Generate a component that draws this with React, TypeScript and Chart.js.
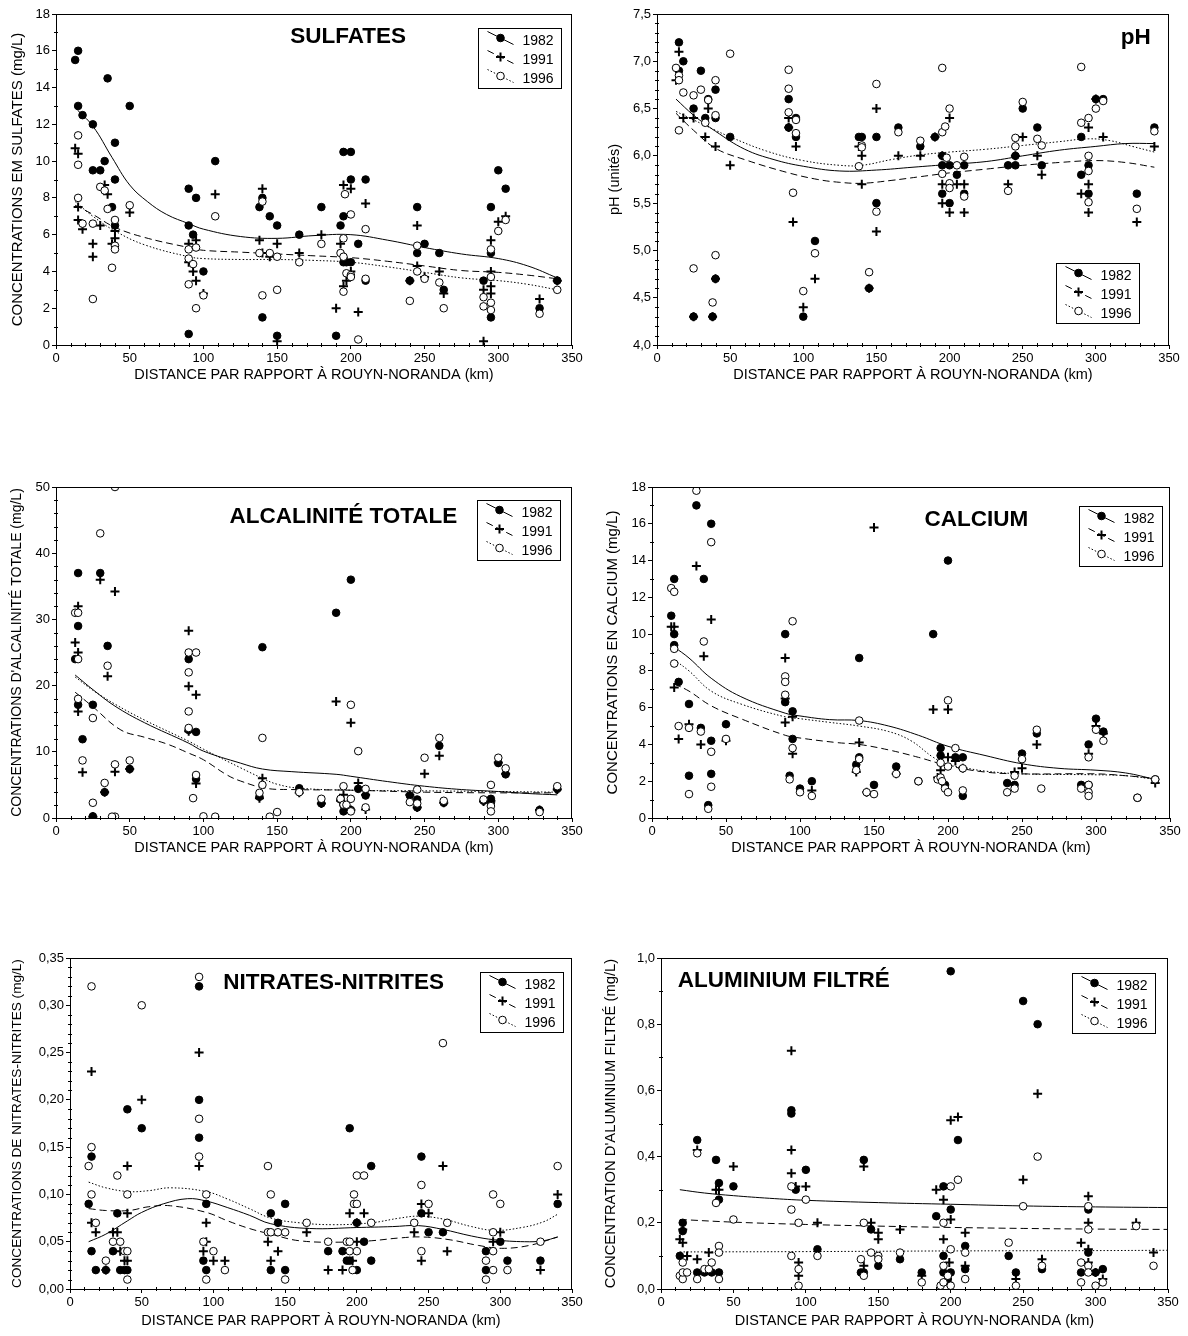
import React, { useEffect, useRef } from 'react';
import { Chart, registerables } from 'chart.js';
Chart.register(...registerables);

const FONT = '"Liberation Sans", Arial, Helvetica, sans-serif';
type Pt = [number, number];

// ---------- shared axis ----------
const X_MIN = 0;
const X_MAX = 350;
const X_STEP = 50;
const X_MINOR = 10;
const X_TITLE = 'DISTANCE PAR RAPPORT À ROUYN-NORANDA (km)';
const YEARS = ['1982', '1991', '1996'];

// ---------- SULFATES ----------
const SULF_82: Pt[] = [[13,15.5],[15,16],[15,13],[18,12.5],[25,12],[25,9.5],[30,9.5],[33,10],[35,14.5],[38,7.5],[40,11],[40,9],[40,6.5],[50,13],[90,8.5],[90,6.5],[90,0.6],[93,6],[95,8],[100,4],[108,10],[138,7.5],[140,8],[140,1.5],[145,7],[150,6.5],[150,0.5],[165,6],[180,7.5],[190,0.5],[193,6.5],[195,7],[195,10.5],[200,10.5],[200,9],[195,4.5],[197,4.5],[200,4.5],[205,5.5],[210,9],[210,3.5],[240,3.5],[245,7.5],[245,5],[250,5.5],[260,5],[263,3],[290,3.5],[295,7.5],[295,5],[295,1.5],[300,9.5],[305,8.5],[328,2],[340,3.5]];
const SULF_91: Pt[] = [[13,10.7],[15,10.4],[15,7.5],[15,6.8],[18,6.3],[25,5.5],[25,4.8],[30,6.5],[33,8.7],[35,8.2],[38,5.5],[40,6.2],[40,5.8],[50,7.2],[90,5.5],[90,4.5],[93,4],[95,5.7],[95,3.5],[100,2.8],[108,8.2],[138,5.7],[140,8.5],[140,5],[145,4.8],[150,5.5],[150,0.2],[165,5],[180,6],[190,2],[193,5.5],[195,8.7],[195,3.2],[197,3.5],[200,8.5],[200,4],[205,1.8],[210,7.7],[240,3.5],[245,6.5],[245,4.3],[250,3.7],[260,4],[263,2.8],[290,0.2],[290,3],[295,5.7],[295,4],[295,3.2],[295,2.8],[300,6.7],[305,7],[328,2.5],[340,3.5]];
const SULF_96: Pt[] = [[15,11.4],[15,9.8],[15,8],[18,6.6],[25,6.6],[25,2.5],[30,8.6],[33,8.4],[35,7.4],[38,4.2],[40,6.8],[40,5.4],[40,5.2],[50,7.6],[90,5.2],[90,4.7],[90,3.3],[93,4.4],[95,5.3],[95,2],[100,2.7],[108,7],[138,5],[140,7.8],[140,2.7],[145,5],[150,4.8],[150,3],[165,4.5],[180,5.5],[193,5],[195,5.8],[195,4.8],[195,2.9],[196,8.2],[197,3.9],[200,7.1],[200,3.8],[200,3.7],[205,0.3],[210,6.3],[210,3.6],[240,2.4],[245,5.4],[245,4],[250,3.6],[260,3.4],[263,2],[290,2.6],[290,2.1],[295,5.2],[295,3.7],[295,2.3],[295,1.9],[300,6.2],[305,6.8],[328,1.7],[340,3]];
const SULF_C82: Pt[] = [[13,12.9],[25,11.9],[38,10.2],[50,8.7],[62,7.8],[75,7.1],[90,6.6],[100,6.3],[125,5.9],[150,5.8],[175,5.95],[200,6.0],[225,5.7],[250,5.3],[275,4.95],[300,4.7],[320,4.3],[340,3.65]];
const SULF_C91: Pt[] = [[13,7.6],[25,7.1],[40,6.4],[60,5.85],[90,5.3],[100,5.15],[125,5.05],[150,4.95],[175,4.85],[200,4.75],[225,4.55],[250,4.3],[275,4.05],[300,3.95],[320,3.8],[340,3.6]];
const SULF_C96: Pt[] = [[13,7.8],[25,7.0],[40,6.2],[60,5.45],[90,4.8],[100,4.7],[125,4.65],[150,4.65],[175,4.6],[200,4.5],[225,4.25],[250,3.95],[275,3.65],[300,3.5],[320,3.3],[340,3.0]];

// ---------- pH ----------
const PH_82: Pt[] = [[15,7.2],[15,6.9],[18,7.0],[25,6.5],[30,6.9],[33,6.4],[35,6.6],[40,6.7],[40,6.4],[40,4.7],[25,4.3],[38,4.3],[50,6.2],[90,6.6],[90,6.3],[95,6.4],[95,6.2],[108,5.1],[100,4.3],[138,6.2],[140,6.2],[150,6.2],[150,5.5],[145,4.6],[165,6.3],[180,6.1],[190,6.2],[195,6.0],[195,5.9],[195,5.6],[200,5.9],[200,5.5],[205,5.8],[210,5.9],[210,5.6],[240,5.9],[245,5.9],[245,6.0],[250,6.5],[260,6.3],[263,5.9],[290,6.2],[290,5.8],[295,5.9],[295,5.6],[300,6.6],[305,6.6],[328,5.6],[340,6.3]];
const PH_91: Pt[] = [[13,6.8],[15,7.1],[18,6.4],[25,6.4],[25,4.3],[33,6.2],[35,6.5],[38,4.3],[40,6.1],[40,4.7],[50,5.9],[90,6.4],[90,6.3],[93,5.3],[95,6.1],[100,4.4],[108,4.7],[138,6.1],[140,6.0],[140,5.7],[145,4.6],[150,6.5],[150,5.2],[165,6.0],[180,6.0],[190,6.2],[195,6.0],[195,5.7],[195,5.5],[200,6.4],[200,5.7],[200,5.4],[205,5.7],[210,5.7],[210,5.4],[240,5.7],[245,6.0],[250,6.2],[260,6.0],[263,5.8],[290,5.6],[295,6.3],[295,5.7],[295,5.4],[300,6.6],[305,6.2],[328,5.3],[340,6.1]];
const PH_96: Pt[] = [[13,6.93],[15,6.85],[15,6.8],[15,6.27],[18,6.67],[25,6.64],[25,4.81],[30,6.7],[33,6.35],[35,6.59],[38,4.45],[40,6.8],[40,6.43],[40,4.95],[50,7.08],[90,6.91],[90,6.71],[90,6.46],[93,5.61],[95,6.38],[95,6.24],[100,4.57],[108,4.97],[138,5.89],[140,6.11],[140,6.09],[145,4.77],[150,6.76],[150,5.41],[165,6.25],[180,6.16],[195,6.93],[195,6.25],[195,5.81],[197,6.31],[198,5.98],[200,6.5],[200,5.71],[200,5.66],[205,5.9],[210,5.99],[210,5.57],[240,5.63],[245,6.19],[245,6.1],[250,6.57],[260,6.18],[263,6.11],[290,6.94],[290,6.35],[295,6.4],[295,6.0],[295,5.84],[295,5.51],[300,6.5],[305,6.58],[328,5.44],[340,6.26]];
const PH_C82: Pt[] = [[13,6.6],[25,6.43],[40,6.26],[60,6.07],[80,5.96],[100,5.89],[125,5.84],[150,5.85],[175,5.88],[200,5.91],[225,5.94],[250,6.0],[275,6.06],[300,6.1],[320,6.13],[340,6.13]];
const PH_C91: Pt[] = [[13,6.45],[25,6.27],[40,6.08],[60,5.96],[90,5.82],[110,5.75],[125,5.72],[140,5.71],[160,5.74],[180,5.78],[200,5.82],[225,5.86],[250,5.9],[275,5.93],[300,5.95],[320,5.93],[340,5.88]];
const PH_C96: Pt[] = [[13,6.47],[25,6.38],[40,6.27],[50,6.2],[75,6.05],[100,5.95],[125,5.9],[140,5.9],[160,5.96],[180,6.01],[200,6.04],[225,6.07],[250,6.11],[275,6.15],[295,6.18],[310,6.16],[325,6.1],[340,6.04]];

// ---------- ALCALINITE ----------
const ALC_82: Pt[] = [[13,24],[15,37],[15,29],[15,17.1],[18,11.9],[25,17.1],[25,0.25],[30,37],[33,3.9],[35,26],[50,7.4],[90,24],[90,13.3],[95,13],[95,5.9],[138,3.2],[140,25.8],[165,4.5],[180,2.2],[190,31],[193,2.8],[195,1.0],[195,2.0],[200,36],[200,1.2],[205,4.4],[210,3.4],[240,3.4],[245,2.8],[245,1.6],[260,10.9],[263,2.3],[290,2.6],[295,2.9],[295,2.3],[300,8.3],[305,6.6],[328,1.2],[340,4.4]];
const ALC_91: Pt[] = [[13,26.5],[15,32],[15,25],[15,16.1],[18,6.9],[25,0.2],[30,36],[33,3.9],[35,21.4],[40,34.2],[40,7],[50,7.4],[90,28.3],[90,19.9],[90,13.1],[95,18.6],[95,5.2],[138,3.0],[140,6.0],[165,3.8],[180,2.2],[190,17.6],[193,2.6],[195,3.5],[200,14.4],[200,1.2],[205,5.3],[210,1.3],[210,3.5],[240,3.5],[245,1.6],[250,6.7],[260,9.4],[263,2.3],[290,2.5],[295,2.6],[300,8.4],[305,6.7],[328,1.2],[340,4.3]];
const ALC_96: Pt[] = [[13,31],[15,31],[15,24],[15,18],[18,8.7],[25,15.1],[25,2.3],[30,43],[33,5.3],[35,23],[40,50],[40,8.1],[40,0.2],[38,0.2],[50,8.7],[90,25],[90,22],[90,16.1],[90,13.6],[93,3],[95,25],[95,6.5],[100,0.25],[108,0.2],[138,3.8],[140,12.1],[140,5],[145,0.2],[150,0.9],[165,3.9],[180,2.9],[193,2.9],[195,4.8],[195,2.0],[197,2.0],[200,17.1],[200,2.9],[200,1.0],[205,10.1],[210,4.4],[210,1.6],[240,2.4],[245,4.3],[245,2.2],[250,9.1],[260,12.1],[263,2.6],[290,2.8],[295,5],[295,1.8],[295,1.0],[300,9.1],[305,7.5],[328,0.9],[340,4.8]];
const ALC_C82: Pt[] = [[13,21.6],[25,19.4],[40,16.9],[60,14.4],[90,11.3],[100,10.1],[125,8.3],[140,7.4],[160,7.0],[190,6.6],[200,6.3],[225,5.5],[250,4.8],[275,4.3],[300,4.0],[320,3.7],[340,3.5]];
const ALC_C91: Pt[] = [[13,19.0],[25,16.8],[44,13.3],[60,12.2],[75,11.2],[90,9.8],[100,8.8],[116,6.5],[125,5.6],[142,4.5],[160,4.3],[200,4.2],[250,3.9],[300,3.8],[340,3.8]];
const ALC_C96: Pt[] = [[13,21.3],[25,19.3],[40,17.2],[60,14.8],[90,11.6],[100,10.4],[125,7.6],[140,6.0],[150,5.1],[165,4.5],[200,4.2],[250,4.1],[300,4.0],[340,3.9]];

// ---------- CALCIUM ----------
const CA_82: Pt[] = [[13,11],[15,13],[15,10],[15,9.4],[18,7.4],[25,6.2],[25,2.3],[30,17],[33,4.9],[35,13],[40,16],[40,4.2],[40,2.4],[38,0.7],[50,5.1],[90,10],[90,6.3],[95,5.8],[95,4.3],[93,2.3],[100,1.6],[108,2.0],[138,2.9],[140,8.7],[140,3.3],[150,1.8],[165,2.8],[180,2.0],[190,10],[195,3.8],[195,3.4],[198,1.8],[200,14],[205,3.3],[210,3.3],[210,1.2],[240,1.9],[245,1.8],[250,3.5],[260,4.6],[290,1.8],[295,4.0],[295,1.8],[300,5.4],[305,4.7],[328,1.1],[340,2.1]];
const CA_91: Pt[] = [[13,10.4],[15,10.4],[15,7.1],[18,4.3],[25,5.1],[30,13.7],[33,4.0],[35,8.8],[40,10.8],[50,4.2],[90,8.7],[90,6.5],[90,5.2],[95,5.5],[95,3.5],[108,1.5],[138,2.5],[140,4.1],[145,1.4],[150,15.8],[165,2.4],[190,5.9],[193,2.2],[195,2.6],[200,5.9],[200,3.3],[205,3.1],[210,2.7],[245,2.5],[250,2.7],[260,4.0],[295,3.5],[300,5.0],[305,4.6],[340,1.9]];
const CA_96: Pt[] = [[13,12.5],[15,12.3],[15,9.2],[15,8.4],[18,5.0],[25,4.9],[25,1.3],[30,17.8],[33,4.7],[35,9.6],[40,15],[40,3.6],[40,1.7],[38,0.5],[50,4.3],[90,7.7],[90,7.4],[90,6.7],[95,10.7],[95,3.8],[93,2.1],[100,1.4],[108,1.2],[138,2.6],[140,5.3],[140,3.2],[145,1.4],[150,1.3],[165,2.4],[180,2.0],[193,2.1],[195,2.2],[195,3.0],[196,2.0],[198,1.6],[200,6.4],[200,2.8],[200,1.4],[205,3.8],[210,2.7],[210,1.5],[240,1.4],[245,2.3],[245,1.6],[250,3.2],[260,4.8],[263,1.6],[290,1.6],[295,3.3],[295,1.8],[295,1.4],[295,1.2],[300,4.8],[305,4.2],[328,1.1],[340,2.1]];
const CA_C82: Pt[] = [[15,9.3],[25,8.7],[40,7.6],[60,6.6],[90,5.7],[100,5.55],[120,5.35],[140,5.3],[160,5.0],[180,4.5],[200,3.9],[225,3.4],[250,2.95],[275,2.7],[300,2.6],[320,2.45],[340,2.1]];
const CA_C91: Pt[] = [[15,7.3],[25,6.9],[40,6.1],[60,5.4],[90,4.5],[100,4.35],[125,4.1],[140,4.0],[160,3.7],[180,3.3],[200,2.85],[225,2.5],[250,2.4],[300,2.4],[320,2.3],[340,2.15]];
const CA_C96: Pt[] = [[15,8.6],[25,8.0],[40,6.9],[60,6.2],[90,5.5],[100,5.4],[120,5.2],[140,5.0],[160,4.7],[175,4.2],[190,3.3],[200,2.9],[210,2.75],[225,2.55],[250,2.4],[300,2.35],[320,2.3],[340,2.1]];

// ---------- NITRATES-NITRITES ----------
const NO_82: Pt[] = [[13,0.09],[15,0.14],[15,0.04],[18,0.02],[25,0.02],[30,0.04],[33,0.08],[35,0.02],[38,0.02],[40,0.02],[40,0.19],[50,0.17],[90,0.32],[90,0.2],[90,0.16],[93,0.03],[95,0.09],[95,0.02],[140,0.08],[140,0.02],[145,0.07],[150,0.09],[150,0.02],[180,0.04],[190,0.04],[193,0.03],[195,0.17],[195,0.03],[200,0.02],[200,0.07],[205,0.05],[210,0.13],[210,0.03],[245,0.14],[245,0.08],[250,0.06],[260,0.06],[290,0.04],[290,0.02],[300,0.05],[305,0.03],[328,0.03],[340,0.09]];
const NO_91: Pt[] = [[15,0.23],[15,0.07],[18,0.06],[25,0.02],[30,0.06],[33,0.06],[35,0.04],[38,0.03],[40,0.13],[40,0.08],[40,0.03],[50,0.2],[90,0.25],[90,0.13],[93,0.04],[95,0.07],[95,0.05],[100,0.03],[108,0.03],[138,0.05],[140,0.03],[145,0.04],[165,0.06],[180,0.02],[190,0.02],[195,0.08],[197,0.03],[200,0.05],[200,0.07],[205,0.08],[240,0.06],[245,0.09],[245,0.03],[250,0.08],[260,0.13],[263,0.04],[295,0.05],[300,0.06],[328,0.02],[340,0.1]];
const NO_96: Pt[] = [[13,0.13],[15,0.32],[15,0.15],[15,0.1],[18,0.07],[25,0.03],[30,0.05],[33,0.12],[35,0.05],[38,0.04],[40,0.1],[40,0.04],[40,0.01],[50,0.3],[90,0.33],[90,0.18],[90,0.14],[93,0.05],[95,0.1],[95,0.01],[100,0.04],[108,0.02],[138,0.13],[138,0.06],[140,0.1],[140,0.06],[145,0.06],[150,0.06],[150,0.01],[165,0.07],[180,0.05],[193,0.05],[195,0.04],[195,0.05],[197,0.02],[198,0.1],[198,0.09],[200,0.12],[200,0.09],[200,0.04],[205,0.12],[210,0.07],[240,0.07],[245,0.11],[245,0.04],[250,0.09],[260,0.26],[263,0.07],[290,0.03],[290,0.01],[295,0.1],[295,0.06],[295,0.04],[295,0.02],[300,0.09],[305,0.02],[328,0.05],[340,0.13]];
const NO_C82: Pt[] = [[13,0.05],[25,0.058],[40,0.072],[50,0.081],[65,0.09],[82,0.0955],[95,0.093],[110,0.086],[125,0.078],[140,0.069],[167,0.064],[200,0.065],[225,0.066],[243,0.067],[260,0.063],[280,0.056],[296,0.052],[317,0.05],[330,0.051],[340,0.055]];
const NO_C91: Pt[] = [[13,0.085],[25,0.083],[41,0.083],[55,0.087],[70,0.088],[95,0.081],[110,0.072],[125,0.064],[140,0.058],[160,0.051],[190,0.0495],[210,0.051],[230,0.054],[246,0.055],[265,0.052],[285,0.046],[301,0.043],[320,0.046],[340,0.055]];
const NO_C96: Pt[] = [[13,0.113],[25,0.107],[41,0.103],[55,0.104],[70,0.107],[95,0.103],[110,0.095],[125,0.085],[140,0.075],[160,0.07],[184,0.068],[210,0.07],[230,0.075],[243,0.077],[260,0.074],[280,0.066],[296,0.062],[315,0.065],[330,0.071],[340,0.079]];

// ---------- ALUMINIUM FILTRE ----------
const AL_82: Pt[] = [[13,0.1],[15,0.2],[15,0.175],[25,0.45],[25,0.05],[30,0.05],[35,0.05],[38,0.39],[40,0.32],[40,0.27],[40,0.05],[50,0.31],[90,0.54],[90,0.53],[93,0.3],[100,0.36],[108,0.12],[138,0.05],[140,0.39],[140,0.05],[145,0.18],[150,0.07],[165,0.09],[180,0.05],[190,0.22],[195,0.05],[195,0.31],[195,0.1],[198,0.03],[200,0.96],[200,0.24],[200,0.05],[205,0.45],[210,0.13],[210,0.06],[240,0.1],[245,0.05],[250,0.87],[260,0.8],[263,0.06],[290,0.05],[295,0.24],[295,0.11],[300,0.05],[305,0.06]];
const AL_91: Pt[] = [[13,0.15],[15,0.14],[15,0.18],[18,0.1],[25,0.42],[25,0.09],[33,0.11],[38,0.3],[40,0.3],[50,0.37],[90,0.72],[90,0.42],[90,0.35],[93,0.31],[95,0.08],[95,0.04],[100,0.31],[108,0.2],[140,0.37],[140,0.07],[145,0.2],[150,0.17],[150,0.15],[165,0.18],[180,0.04],[190,0.3],[195,0.27],[195,0.15],[198,0.02],[199,0.08],[200,0.51],[200,0.21],[205,0.52],[210,0.17],[210,0.07],[245,0.03],[250,0.33],[260,0.59],[263,0.09],[290,0.14],[295,0.28],[295,0.2],[295,0.12],[295,0.08],[300,0.05],[305,0.03],[328,0.2],[340,0.11]];
const AL_96: Pt[] = [[13,0.04],[15,0.08],[15,0.03],[15,0.05],[18,0.05],[25,0.41],[25,0.03],[30,0.06],[33,0.06],[35,0.08],[38,0.26],[40,0.13],[40,0.11],[40,0.03],[50,0.21],[90,0.31],[90,0.24],[90,0.1],[95,0.2],[95,0.06],[95,0.01],[100,0.27],[108,0.1],[138,0.09],[140,0.2],[140,0.04],[145,0.11],[150,0.1],[150,0.09],[165,0.11],[180,0.02],[193,0.01],[195,0.2],[195,0.07],[195,0.02],[198,0.04],[200,0.31],[200,0.12],[200,0.01],[205,0.33],[210,0.11],[210,0.03],[240,0.14],[245,0.01],[250,0.25],[260,0.4],[263,0.07],[290,0.08],[290,0.02],[295,0.25],[295,0.18],[295,0.07],[295,0.05],[300,0.01],[305,0.02],[328,0.19],[340,0.07]];
const AL_C82: Pt[] = [[13,0.30],[30,0.29],[50,0.282],[75,0.274],[100,0.268],[150,0.261],[200,0.256],[250,0.251],[300,0.248],[350,0.246]];
const AL_C91: Pt[] = [[13,0.21],[50,0.202],[100,0.195],[150,0.19],[200,0.186],[250,0.183],[300,0.181],[350,0.18]];
const AL_C96: Pt[] = [[13,0.112],[100,0.113],[200,0.115],[300,0.116],[350,0.117]];

// ---------- panel layout ----------
interface PanelDef {
  title: string; yTitle: string;
  yMin: number; yMax: number; yStep: number; yMinor: number; yDec: number;
  pts: Pt[][]; curves: Pt[][];
  canvas: [number, number, number, number];
  plot: [number, number, number, number];
  yTitleSize: number; yTitleX: number; xTitleY: number;
  titleFx: number; titleFy: number; legFx: number; legFy: number;
}

const X_TITLE_SIZE = 14.5;

const PANELS: PanelDef[] = [
  { title: 'SULFATES', yTitle: 'CONCENTRATIONS EM SULFATES (mg/L)', yMin: 0, yMax: 18, yStep: 2, yMinor: 1, yDec: 0,
    pts: [SULF_82, SULF_91, SULF_96], curves: [SULF_C82, SULF_C91, SULF_C96],
    canvas: [0, 0, 594, 400], plot: [56, 14, 572, 345], yTitleSize: 15, yTitleX: 18, xTitleY: 375,
    titleFx: 0.566, titleFy: 0.07, legFx: 0.817, legFy: 0.043 },
  { title: 'pH', yTitle: 'pH (unités)', yMin: 4, yMax: 7.5, yStep: 0.5, yMinor: 0.1, yDec: 1,
    pts: [PH_82, PH_91, PH_96], curves: [PH_C82, PH_C91, PH_C96],
    canvas: [594, 0, 594, 400], plot: [657, 14, 1169, 345], yTitleSize: 14.5, yTitleX: 615, xTitleY: 375,
    titleFx: 0.935, titleFy: 0.073, legFx: 0.779, legFy: 0.7525 },
  { title: 'ALCALINITÉ TOTALE', yTitle: "CONCENTRATIONS D'ALCALINITÉ TOTALE (mg/L)", yMin: 0, yMax: 50, yStep: 10, yMinor: 2, yDec: 0,
    pts: [ALC_82, ALC_91, ALC_96], curves: [ALC_C82, ALC_C91, ALC_C96],
    canvas: [0, 470, 594, 400], plot: [56, 487, 572, 818], yTitleSize: 14, yTitleX: 17, xTitleY: 848,
    titleFx: 0.557, titleFy: 0.089, legFx: 0.816, legFy: 0.038 },
  { title: 'CALCIUM', yTitle: 'CONCENTRATIONS EN CALCIUM (mg/L)', yMin: 0, yMax: 18, yStep: 2, yMinor: 1, yDec: 0,
    pts: [CA_82, CA_91, CA_96], curves: [CA_C82, CA_C91, CA_C96],
    canvas: [594, 470, 594, 400], plot: [652, 487, 1170, 818], yTitleSize: 15, yTitleX: 613, xTitleY: 848,
    titleFx: 0.626, titleFy: 0.099, legFx: 0.825, legFy: 0.058 },
  { title: 'NITRATES-NITRITES', yTitle: 'CONCENTRATIONS DE NITRATES-NITRITES (mg/L)', yMin: 0, yMax: 0.35, yStep: 0.05, yMinor: 0.01, yDec: 2,
    pts: [NO_82, NO_91, NO_96], curves: [NO_C82, NO_C91, NO_C96],
    canvas: [0, 940, 594, 396], plot: [70, 958, 572, 1289], yTitleSize: 13.6, yTitleX: 17, xTitleY: 1321,
    titleFx: 0.525, titleFy: 0.076, legFx: 0.816, legFy: 0.043 },
  { title: 'ALUMINIUM FILTRÉ', yTitle: "CONCENTRATION D'ALUMINIUM FILTRÉ (mg/L)", yMin: 0, yMax: 1.0, yStep: 0.2, yMinor: 0.1, yDec: 1,
    pts: [AL_82, AL_91, AL_96], curves: [AL_C82, AL_C91, AL_C96],
    canvas: [594, 940, 594, 396], plot: [661, 958, 1168, 1289], yTitleSize: 14.8, yTitleX: 611, xTitleY: 1321,
    titleFx: 0.242, titleFy: 0.069, legFx: 0.811, legFy: 0.046 },
];

const DASHES: number[][] = [[], [7, 4], [1.5, 2]];

function drawMarker(ctx: CanvasRenderingContext2D, kind: number, x: number, y: number) {
  ctx.save();
  ctx.setLineDash([]);
  ctx.strokeStyle = '#000';
  if (kind === 1) {
    ctx.lineWidth = 2;
    ctx.beginPath();
    ctx.moveTo(x - 4.5, y); ctx.lineTo(x + 4.5, y);
    ctx.moveTo(x, y - 4.5); ctx.lineTo(x, y + 4.5);
    ctx.stroke();
  } else {
    ctx.lineWidth = 1;
    ctx.beginPath();
    ctx.arc(x, y, 3.8, 0, Math.PI * 2);
    ctx.fillStyle = kind === 0 ? '#000' : '#fff';
    ctx.fill();
    ctx.stroke();
  }
  ctx.restore();
}

const decor = {
  id: 'decor',
  afterDatasetsDraw(chart: any, _args: any, o: any) {
    const { ctx, chartArea: a } = chart;
    const xs = chart.scales.x;
    const ys = chart.scales.y;
    const L = Math.round(a.left), T = Math.round(a.top), R = Math.round(a.right), B = Math.round(a.bottom);
    ctx.save();
    ctx.strokeStyle = '#000';
    ctx.lineWidth = 1;
    ctx.setLineDash([]);
    ctx.strokeRect(L + 0.5, T + 0.5, R - L - 1, B - T);
    // minor ticks
    ctx.beginPath();
    const nx = Math.round((X_MAX - X_MIN) / X_MINOR);
    for (let k = 0; k <= nx; k++) {
      const v = X_MIN + k * X_MINOR;
      const r = v / X_STEP;
      if (Math.abs(r - Math.round(r)) < 1e-6) continue;
      const px = Math.round(xs.getPixelForValue(v)) + 0.5;
      ctx.moveTo(px, B - 2); ctx.lineTo(px, B + 2);
    }
    const ny = Math.round((o.yMax - o.yMin) / o.yMinor);
    for (let k = 0; k <= ny; k++) {
      const v = o.yMin + k * o.yMinor;
      const r = (v - o.yMin) / o.yStep;
      if (Math.abs(r - Math.round(r)) < 1e-6) continue;
      const py = Math.round(ys.getPixelForValue(v)) + 0.5;
      ctx.moveTo(L - 2, py); ctx.lineTo(L + 2, py);
    }
    ctx.stroke();
    // panel title
    ctx.fillStyle = '#000';
    ctx.font = `bold 22.5px ${FONT}`;
    ctx.textAlign = 'center';
    ctx.textBaseline = 'middle';
    ctx.fillText(o.title, a.left + o.titleFx * (a.right - a.left), a.top + o.titleFy * (a.bottom - a.top));
    // legend
    const bx = Math.round(a.left + o.legFx * (a.right - a.left)) + 0.5;
    const by = Math.round(a.top + o.legFy * (a.bottom - a.top)) + 0.5;
    ctx.fillStyle = '#fff';
    ctx.fillRect(bx, by, 83, 60);
    ctx.strokeStyle = '#000';
    ctx.lineWidth = 1;
    ctx.strokeRect(bx, by, 83, 60);
    ctx.font = `14px ${FONT}`;
    ctx.textAlign = 'left';
    for (let i = 0; i < 3; i++) {
      const my = by + 9.5 + i * 19;
      ctx.save();
      ctx.setLineDash(DASHES[i]);
      ctx.lineWidth = 1;
      ctx.beginPath();
      ctx.moveTo(bx + 9, my - 6.5);
      ctx.lineTo(bx + 35, my + 6.5);
      ctx.stroke();
      ctx.restore();
      drawMarker(ctx, i, bx + 22, my);
      ctx.fillStyle = '#000';
      ctx.fillText(YEARS[i], bx + 44, my + 3.5);
    }
    ctx.restore();
  },
};

function toXY(p: Pt[]) {
  return p.map(([x, y]) => ({ x, y }));
}

function buildConfig(d: PanelDef): any {
  const [cl, ct, cw, ch] = d.canvas;
  const [pl, pt, pr, pb] = d.plot;
  const yW = pl - cl;
  const xH = ct + ch - pb;
  const xLH = X_TITLE_SIZE * 1.2;
  const yLH = d.yTitleSize * 1.2;
  const tickFont = { family: FONT, size: 13 };
  const pointSets = [
    { label: '1982', data: toXY(d.pts[0]), pointStyle: 'circle', pointRadius: 3.8, pointBackgroundColor: '#000', pointBorderColor: '#000', pointBorderWidth: 1, order: 2 },
    { label: '1991', data: toXY(d.pts[1]), pointStyle: 'cross', pointRadius: 4.5, pointBackgroundColor: '#000', pointBorderColor: '#000', pointBorderWidth: 2, order: 1 },
    { label: '1996', data: toXY(d.pts[2]), pointStyle: 'circle', pointRadius: 3.8, pointBackgroundColor: '#fff', pointBorderColor: '#000', pointBorderWidth: 1, order: 0 },
  ].map((s) => ({ ...s, showLine: false, pointHoverRadius: 0 }));
  const curveSets = d.curves.map((c, i) => ({
    label: 'lissage ' + YEARS[i],
    data: toXY(c),
    showLine: true,
    pointRadius: 0,
    borderColor: '#000',
    borderWidth: 1,
    borderDash: DASHES[i],
    tension: 0.4,
    fill: false,
    order: 3 + i,
  }));
  return {
    type: 'scatter',
    data: { datasets: [...pointSets, ...curveSets] },
    options: {
      responsive: false,
      animation: false,
      events: [],
      layout: { padding: { left: 0, top: pt - ct, right: cl + cw - pr, bottom: 0 } },
      plugins: {
        legend: { display: false },
        tooltip: { enabled: false },
        decor: {
          title: d.title, titleFx: d.titleFx, titleFy: d.titleFy, legFx: d.legFx, legFy: d.legFy,
          yMin: d.yMin, yMax: d.yMax, yStep: d.yStep, yMinor: d.yMinor,
        },
      },
      scales: {
        x: {
          type: 'linear', position: 'bottom', min: X_MIN, max: X_MAX,
          ticks: { stepSize: X_STEP, autoSkip: false, maxRotation: 0, padding: 2, color: '#000', font: tickFont },
          grid: { drawOnChartArea: false, drawTicks: true, tickLength: 4, tickColor: '#000', tickWidth: 1 },
          border: { display: false },
          title: {
            display: true, text: X_TITLE, color: '#000', font: { family: FONT, size: X_TITLE_SIZE },
            padding: { top: 0, bottom: ct + ch - d.xTitleY - xLH / 2 },
          },
          afterFit: (s: any) => { s.height = xH; },
        },
        y: {
          type: 'linear', position: 'left', min: d.yMin, max: d.yMax,
          ticks: {
            stepSize: d.yStep, autoSkip: false, padding: 2, color: '#000', font: tickFont,
            callback: (v: any) => Number(v).toFixed(d.yDec).replace('.', ','),
          },
          grid: { drawOnChartArea: false, drawTicks: true, tickLength: 4, tickColor: '#000', tickWidth: 1 },
          border: { display: false },
          title: {
            display: true, text: d.yTitle, color: '#000', font: { family: FONT, size: d.yTitleSize },
            padding: { top: d.yTitleX - cl - yLH / 2, bottom: 0 },
          },
          afterFit: (s: any) => { s.width = yW; },
        },
      },
    },
    plugins: [decor],
  };
}

function Panel({ def }: { def: PanelDef }) {
  const ref = useRef<HTMLCanvasElement>(null);
  useEffect(() => {
    if (!ref.current) return;
    const chart = new Chart(ref.current, buildConfig(def));
    return () => chart.destroy();
  }, [def]);
  const [l, t, w, h] = def.canvas;
  return (
    <div style={{ position: 'absolute', left: l, top: t, width: w, height: h }}>
      <canvas ref={ref} width={w} height={h} style={{ display: 'block', width: w, height: h }} />
    </div>
  );
}

export default function App() {
  return (
    <div style={{ position: 'absolute', left: 0, top: 0, width: 1188, height: 1336, background: '#fff', overflow: 'hidden' }}>
      {PANELS.map((p, i) => <Panel key={i} def={p} />)}
    </div>
  );
}
